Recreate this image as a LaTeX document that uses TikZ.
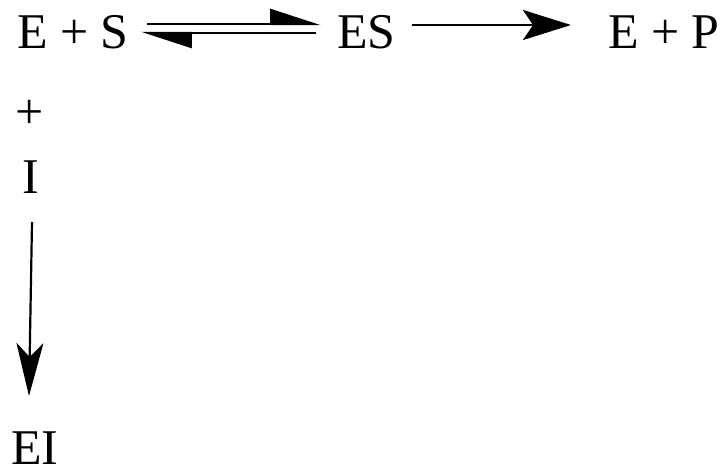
\documentclass[tikz,border=0pt]{standalone}
\usepackage{fontspec}
\setmainfont{Liberation Serif}
\usetikzlibrary{arrows.meta}
\begin{document}
\begin{tikzpicture}[x=1pt,y=-1pt,
  lbl/.style={inner sep=0pt,anchor=base west,font=\fontsize{50}{60}\selectfont},
  harp/.style={line width=2.4pt,-{Stealth[harpoon,length=47pt,width=30pt,inset=0pt]}},
  fwd/.style={line width=2.6pt,-{Stealth[length=48pt,width=30pt,inset=10pt]}},
  down/.style={line width=2.2pt,-{Stealth[length=53pt,width=27pt,inset=14pt]}}]
\useasboundingbox (0,0) rectangle (721,471);
\node[lbl] (es0) at (17,48) {E + S};
\node[lbl] (es) at (337,48) {ES};
\node[lbl] (ep) at (608,48) {E + P};
\node[lbl,anchor=center] (plus) at (30,114) {+};
\node[lbl] (inh) at (22,193) {I};
\node[lbl,text depth=0pt] (ei) at (11,464) {EI};
\coordinate (a1) at (147,24);
\coordinate (a2) at (321,24);
\coordinate (b1) at (316,33);
\coordinate (b2) at (141,33);
\draw[harp] (a1) -- (a2);
\draw[harp] (b1) -- (b2);
\coordinate (c1) at (412,25);
\coordinate (c2) at (571,25);
\draw[fwd] (c1) -- (c2);
\coordinate (d1) at (32,222);
\coordinate (d2) at (29,396);
\draw[down] (d1) -- (d2);
\end{tikzpicture}
\end{document}
